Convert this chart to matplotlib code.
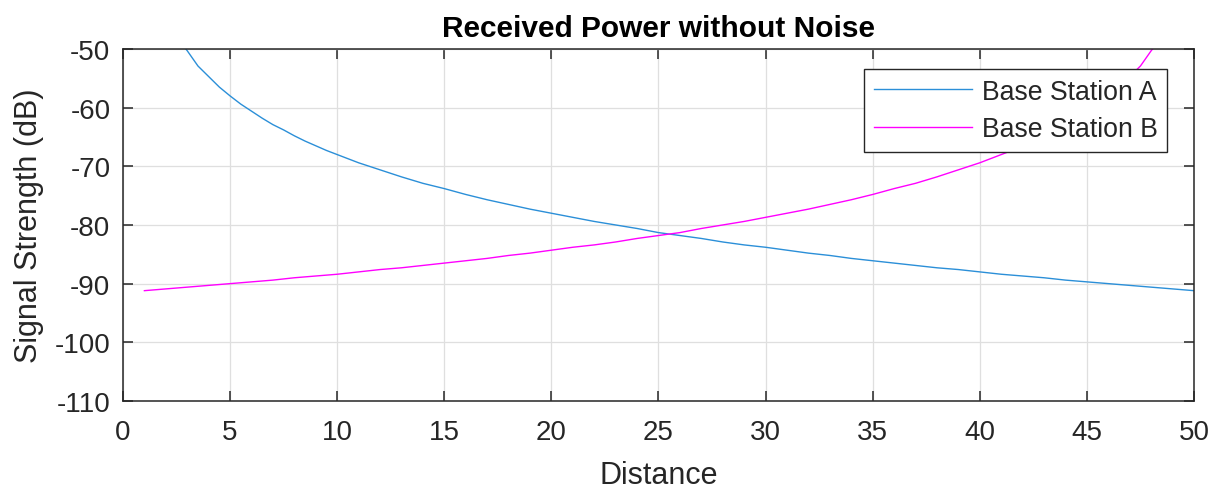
import matplotlib
matplotlib.use("Agg")
import matplotlib.pyplot as plt

dist_a = [1, 2, 2.5, 3, 3.5, 4, 4.5, 5, 5.5, 6, 6.5, 7, 7.5, 8, 8.5, 9, 9.5, 10,
          11, 12, 13, 14, 15, 16, 17, 18, 19, 20, 21, 22, 23, 24, 25, 26, 27, 28,
          29, 30, 31, 32, 33, 34, 35, 36, 37, 38, 39, 40, 41, 42, 43, 44, 45, 46,
          47, 48, 49, 50]
station_a = [-34.8, -44.8, -48.0, -50.3, -52.9, -54.7, -56.5, -58.0, -59.4, -60.6,
             -61.8, -62.9, -63.8, -64.8, -65.7, -66.5, -67.3, -68.0,
             -69.4, -70.6, -71.8, -72.9, -73.8, -74.8, -75.7, -76.5, -77.3, -78.0,
             -78.7, -79.4, -80.0, -80.6, -81.3, -81.8, -82.3, -82.9, -83.4, -83.8,
             -84.3, -84.8, -85.2, -85.7, -86.1, -86.5, -86.9, -87.3, -87.6, -88.0,
             -88.4, -88.7, -89.0, -89.4, -89.7, -90.0, -90.3, -90.6, -90.9, -91.2]

dist_b = [1, 2, 3, 4, 5, 6, 7, 8, 9, 10, 11, 12, 13, 14, 15, 16, 17, 18, 19, 20,
          21, 22, 23, 24, 25, 26, 27, 28, 29, 30, 31, 32, 33, 34, 35, 36, 37, 38,
          39, 40, 41, 41.5, 42, 42.5, 43, 43.5, 44, 44.5, 45, 45.5, 46, 46.5, 47,
          47.5, 48, 48.5, 49, 50]
station_b = [-91.2, -90.9, -90.6, -90.3, -90.0, -89.7, -89.4, -89.0, -88.7, -88.4,
             -88.0, -87.6, -87.3, -86.9, -86.5, -86.1, -85.7, -85.2, -84.8, -84.3,
             -83.8, -83.4, -82.9, -82.3, -81.8, -81.3, -80.6, -80.0, -79.4, -78.7,
             -78.0, -77.3, -76.5, -75.7, -74.8, -73.8, -72.9, -71.8, -70.6, -69.4,
             -68.0, -67.3, -66.5, -65.7, -64.8, -63.8, -62.9, -61.8, -60.6, -59.4,
             -58.0, -56.5, -54.7, -52.9, -50.3, -48.0, -44.8, -34.8]

x_ticks = list(range(0, 51, 5))
y_ticks = list(range(-110, -49, 10))

plt.rcParams['font.family'] = ['Liberation Sans', 'DejaVu Sans']
plt.rcParams['axes.unicode_minus'] = False
axis_col = '#262626'

fig = plt.figure(figsize=(12.2, 4.89), dpi=100)
ax = fig.add_axes([0.1008, 0.178, 0.8779, 0.7198])

ax.plot(dist_a, station_a, color='#2b8fd8', linewidth=1.0, label='Base Station A')
ax.plot(dist_b, station_b, color='#ff00ff', linewidth=1.0, label='Base Station B')

ax.set_xlim(0, 50)
ax.set_ylim(-110, -50)
ax.set_xticks(x_ticks)
ax.set_yticks(y_ticks)
ax.grid(True, color='#dfdfdf', linewidth=0.9)
ax.set_axisbelow(True)

ax.tick_params(direction='in', length=7.5, width=1.1, colors=axis_col,
               labelsize=20, top=True, right=True)
ax.tick_params(axis='x', pad=13)
ax.tick_params(axis='y', pad=9)
for s in ax.spines.values():
    s.set_color(axis_col)
    s.set_linewidth(1.1)

ax.set_xlabel('Distance', fontsize=22, color=axis_col, labelpad=11)
ax.set_ylabel('Signal Strength (dB)', fontsize=22, color=axis_col, labelpad=8)
ax.set_title('Received Power without Noise', fontsize=21.5, fontweight='bold',
             color='black', pad=9)

leg = ax.legend(loc='upper right', bbox_to_anchor=(0.9748, 0.943),
                fontsize=19.2, fancybox=False, framealpha=1, edgecolor=axis_col,
                handlelength=3.67, borderpad=0.36, labelspacing=0.44,
                handletextpad=0.37, borderaxespad=0.0)
leg.get_frame().set_linewidth(1.0)
for t in leg.get_texts():
    t.set_color(axis_col)

fig.savefig('out.png', dpi=100)
